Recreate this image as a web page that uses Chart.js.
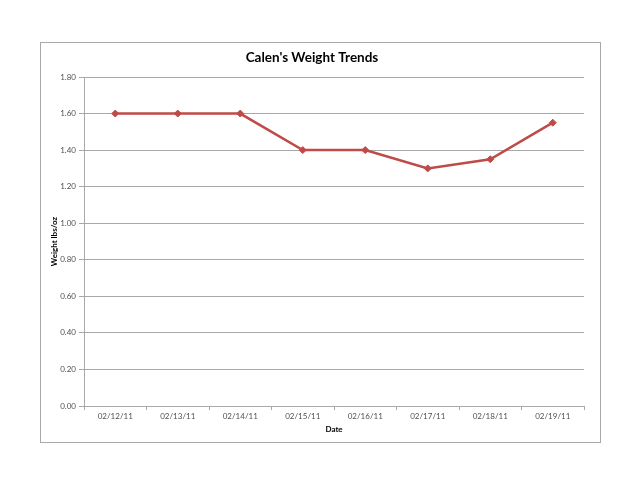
<!DOCTYPE html>
<html><head><meta charset="utf-8">
<script src="https://cdn.jsdelivr.net/npm/chart.js@4"></script>
<style>html,body{margin:0;padding:0;background:#fff;}#wrap{width:640px;height:494px;}</style>
</head><body><div id="wrap"><canvas id="c" width="640" height="494"></canvas></div>
<script>
const categories = ["02/12/11","02/13/11","02/14/11","02/15/11","02/16/11","02/17/11","02/18/11","02/19/11"];
const weights = [1.60,1.60,1.60,1.40,1.40,1.30,1.35,1.55];
const chartTitle = "Calen's Weight Trends";
const yTitle = "Weight lbs/oz";
const xTitle = "Date";
const FONT = "Lato, 'Liberation Sans', sans-serif";
const GRID = '#a8a8a8';

const frame = {
  id: 'frame',
  beforeDraw(chart) {
    const ctx = chart.ctx;
    ctx.save();
    ctx.strokeStyle = '#a8a8a8';
    ctx.lineWidth = 1;
    ctx.strokeRect(40.5, 42.5, 560, 400);
    ctx.restore();
  }
};

new Chart(document.getElementById('c'), {
  type: 'line',
  data: {
    labels: categories,
    datasets: [{
      data: weights,
      borderColor: '#BE4B48',
      backgroundColor: '#BE4B48',
      borderWidth: 2.5,
      pointStyle: 'rectRot',
      pointRadius: 3.5,
      pointBorderWidth: 1,
      tension: 0
    }]
  },
  plugins: [frame],
  options: {
    responsive: false,
    animation: false,
    layout: { padding: { left: 40, right: 56, top: 42, bottom: 51 } },
    plugins: {
      legend: { display: false },
      tooltip: { enabled: false },
      title: {
        display: true, text: chartTitle, color: '#000',
        font: { family: FONT, size: 13.5, weight: 'bold' },
        padding: { top: 8, bottom: 10.8 }
      }
    },
    scales: {
      x: {
        offset: true,
        grid: { display: true, offset: true, drawOnChartArea: false, drawTicks: true, tickLength: 4, color: GRID },
        border: { color: GRID },
        ticks: { color: '#505050', font: { family: FONT, size: 8 }, padding: 2, maxRotation: 0 },
        title: { display: true, text: xTitle, color: '#000', font: { family: FONT, size: 8, weight: 'bold' }, padding: { top: 4, bottom: 9 } },
        afterFit(s) { s.height = 37; }
      },
      y: {
        min: 0, max: 1.8,
        ticks: { stepSize: 0.2, color: '#505050', font: { family: FONT, size: 8 }, padding: 3, callback: v => v.toFixed(2) },
        grid: { color: GRID, drawTicks: true, tickLength: 5 },
        border: { color: GRID },
        title: { display: true, text: yTitle, color: '#000', font: { family: FONT, size: 8, weight: 'bold' }, padding: { top: 10, bottom: 0 } },
        afterFit(s) { s.width = 44; }
      }
    }
  }
});
</script></body></html>
